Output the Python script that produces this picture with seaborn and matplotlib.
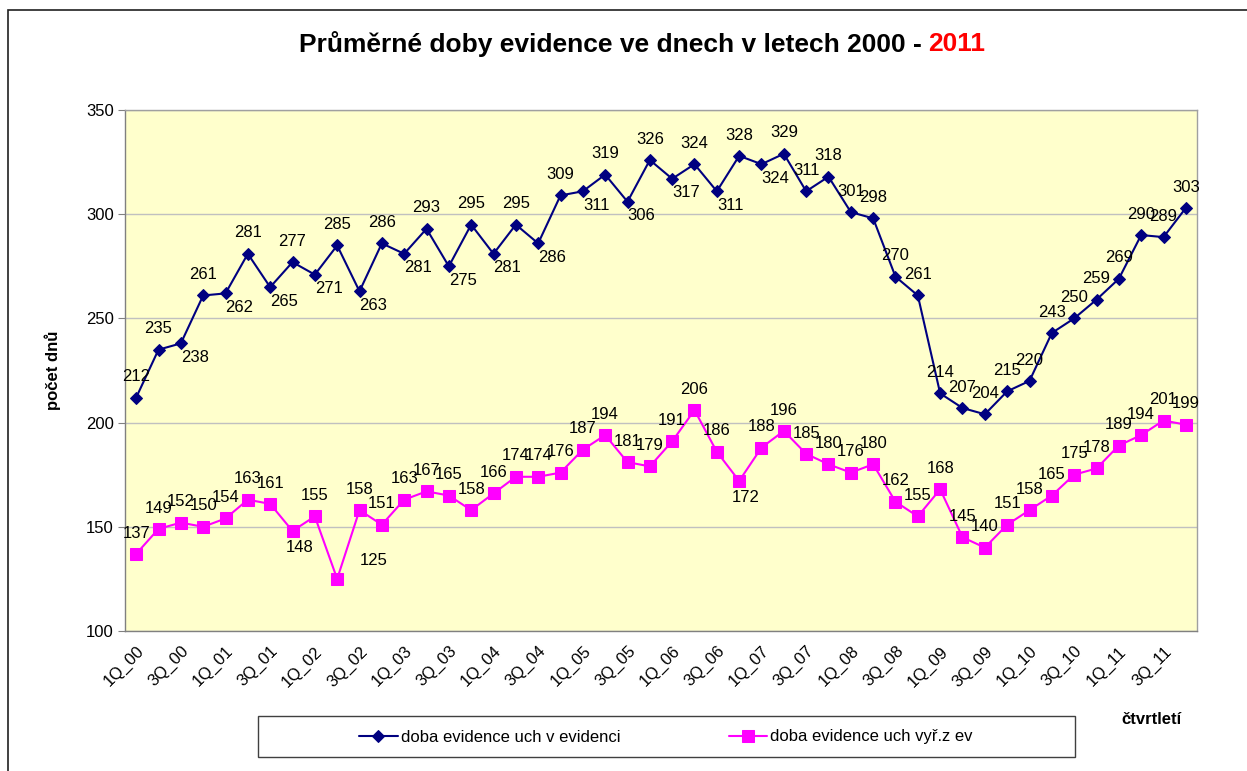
import numpy as np
import pandas as pd
import matplotlib
matplotlib.use("Agg")
import matplotlib.pyplot as plt
import seaborn as sns

# data
years = ["00", "01", "02", "03", "04", "05", "06", "07", "08", "09", "10", "11"]
quarters = [f"{q}Q_{y}" for y in years for q in (1, 2, 3, 4)]

v_evidenci = [212, 235, 238, 261, 262, 281, 265, 277, 271, 285, 263, 286,
              281, 293, 275, 295, 281, 295, 286, 309, 311, 319, 306, 326,
              317, 324, 311, 328, 324, 329, 311, 318, 301, 298, 270, 261,
              214, 207, 204, 215, 220, 243, 250, 259, 269, 290, 289, 303]

vyr_z_ev = [137, 149, 152, 150, 154, 163, 161, 148, 155, 125, 158, 151,
            163, 167, 165, 158, 166, 174, 174, 176, 187, 194, 181, 179,
            191, 206, 186, 172, 188, 196, 185, 180, 176, 180, 162, 155,
            168, 145, 140, 151, 158, 165, 175, 178, 189, 194, 201, 199]

# label placement (which points get their value label below the marker)
navy_below = set(range(2, 30, 2))
pink_below = {7, 27}

df = pd.DataFrame({"x": np.arange(len(quarters)), "q": quarters,
                   "a": v_evidenci, "b": vyr_z_ev})

sns.set_style("white")
plt.rcParams["font.family"] = ["Liberation Sans", "DejaVu Sans"]
plt.rcParams["text.color"] = "black"
plt.rcParams["axes.labelcolor"] = "black"
plt.rcParams["xtick.color"] = "black"
plt.rcParams["ytick.color"] = "black"

fig = plt.figure(figsize=(12.47, 7.71), dpi=100)
ax = fig.add_axes([125 / 1247, 1 - 631 / 771, (1197 - 125) / 1247, 521 / 771])
ax.set_facecolor("#FFFFCC")

navy = "#000080"
pink = "#FF00FF"
sns.lineplot(data=df, x="x", y="a", ax=ax, color=navy, marker="D", markersize=6,
             markeredgecolor=navy, lw=1.5, label="doba evidence uch v evidenci")
sns.lineplot(data=df, x="x", y="b", ax=ax, color=pink, marker="s", markersize=8,
             markeredgecolor=pink, lw=1.5, label="doba evidence uch vyř.z ev")

for i, v in enumerate(v_evidenci):
    if i in navy_below:
        off = (10, -10)
    else:
        off = (0, 15)
    ax.annotate(str(v), (i, v), xytext=off, textcoords="offset points",
                ha="center", va="center", fontsize=12)
for i, v in enumerate(vyr_z_ev):
    if i in pink_below:
        off = (5, -12)
    elif i == 9:
        off = (26, 13)
    else:
        off = (0, 15)
    ax.annotate(str(v), (i, v), xytext=off, textcoords="offset points",
                ha="center", va="center", fontsize=12)

ax.set_xlim(-0.5, len(quarters) - 0.5)
ax.set_ylim(100, 350)
ax.set_yticks(range(100, 351, 50))
ax.yaxis.grid(True, color="#C0C0C0", lw=1)
ax.set_axisbelow(True)
ax.set_xticks(df["x"][::2])
ax.set_xticklabels(df["q"][::2], rotation=45, ha="right", rotation_mode="anchor",
                   fontsize=12)
ax.set_xticks(np.arange(-0.5, len(quarters), 1), minor=True)
ax.tick_params(axis="x", which="major", length=0, pad=9)
ax.tick_params(axis="x", which="minor", length=5, color="#808080", direction="out")
ax.tick_params(axis="y", length=5, color="#808080", labelcolor="black",
               direction="out", labelsize=12, left=True, pad=3)
for s in ax.spines.values():
    s.set_color("#A0A0A0")
    s.set_linewidth(1)
ax.spines["left"].set_color("#808080")
ax.spines["bottom"].set_color("#808080")

ax.set_xlabel("")
ax.set_ylabel("počet dnů", fontsize=12, fontweight="bold", labelpad=18)

# title, last part in red
fig.text(922 / 1247, 1 - 44 / 771, "Průměrné doby evidence ve dnech v letech 2000 -",
         ha="right", va="center", fontsize=19, fontweight="bold", color="black")
fig.text(928 / 1247, 1 - 44 / 771, "2011", ha="left", va="center", fontsize=19,
         fontweight="bold", color="#FF0000")

fig.text(1152 / 1247, 1 - 720 / 771, "čtvrtletí", ha="center", va="center",
         fontsize=12, fontweight="bold")

# legend: frame drawn separately so it spans the same width as in the reference
ax.get_legend().remove()
h, l = ax.get_legend_handles_labels()
fig.add_artist(plt.Rectangle((258 / 1247, 1 - 757 / 771), 817 / 1247, 41 / 771,
                             transform=fig.transFigure, fill=True, facecolor="white",
                             edgecolor="#404040", lw=1))
fig.legend(h, l, loc="center", ncol=2, frameon=False,
           bbox_to_anchor=(666 / 1247, 1 - 737 / 771), fontsize=12,
           handlelength=2.3, handletextpad=0.2, columnspacing=6.5)

# outer chart border
fig.add_artist(plt.Rectangle((8 / 1247, -0.01), 1.0, 1 - 10 / 771 + 0.01,
                             transform=fig.transFigure, fill=False,
                             edgecolor="#202020", lw=1.2))

fig.savefig("out.png", dpi=100)
